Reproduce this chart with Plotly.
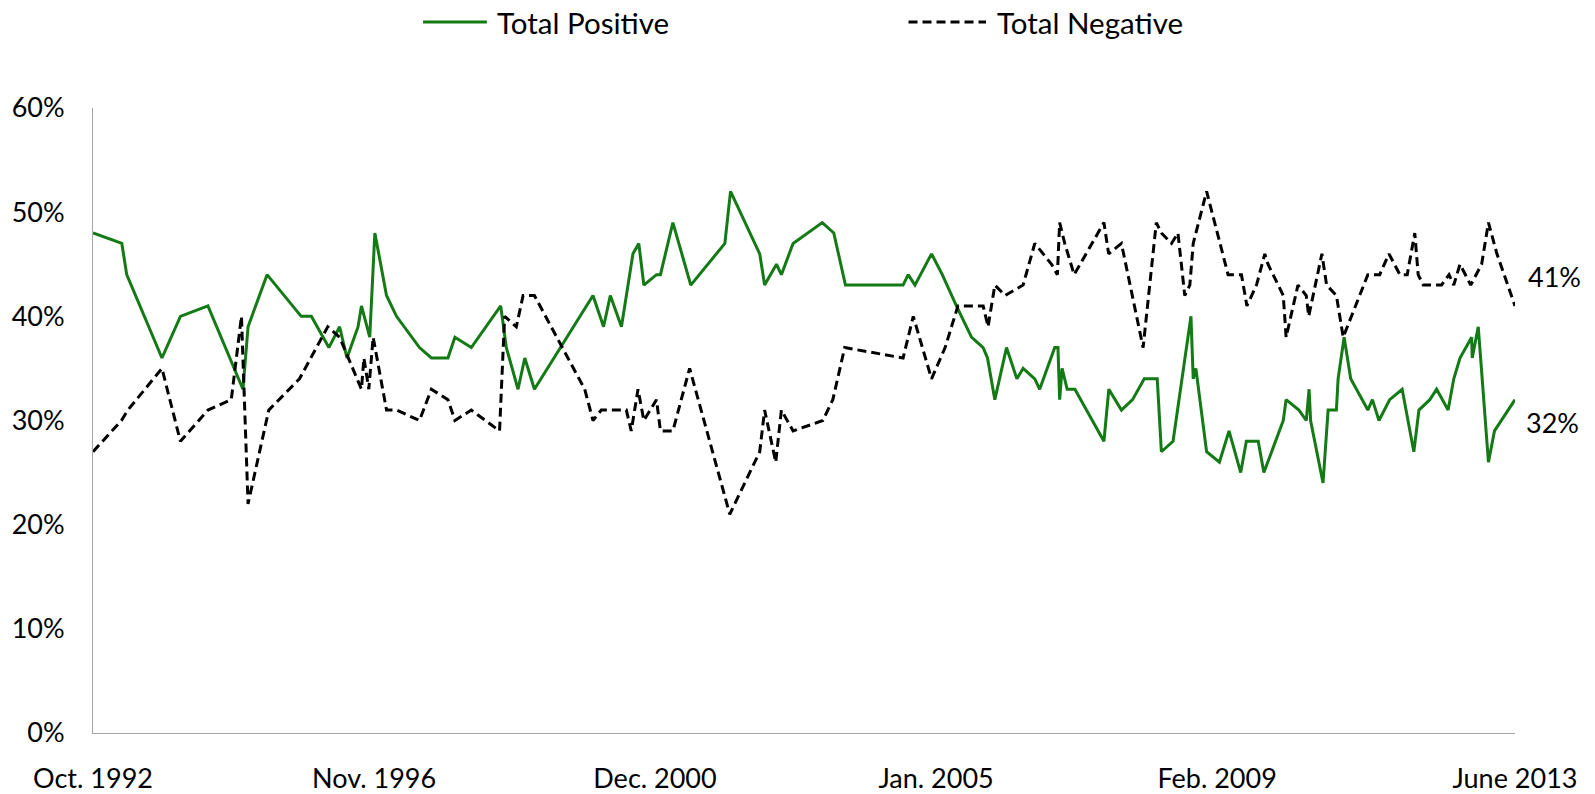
import plotly.graph_objects as go

# ---------------- data ----------------
series_names = ["Total Positive", "Total Negative"]

pos_dates = [
    "1992-10-01", "1993-03-03", "1993-03-29", "1993-10-02", "1994-01-08", "1994-06-03",
    "1994-12-06", "1995-01-02", "1995-04-13", "1995-10-11", "1995-12-04", "1996-03-06",
    "1996-05-02", "1996-06-10", "1996-08-08", "1996-08-26", "1996-10-09", "1996-11-05",
    "1997-01-06", "1997-02-28", "1997-06-30", "1997-09-01", "1997-11-28", "1998-01-04",
    "1998-04-01", "1998-09-04", "1998-10-04", "1998-12-05", "1999-01-10", "1999-03-02",
    "2000-01-07", "2000-03-03", "2000-04-08", "2000-06-06", "2000-08-06", "2000-09-06",
    "2000-10-03", "2000-12-09", "2000-12-30", "2001-03-06", "2001-06-09", "2001-12-07",
    "2002-01-06", "2002-06-10", "2002-07-06", "2002-09-07", "2002-10-03", "2002-12-04",
    "2003-05-08", "2003-07-08", "2003-09-08", "2004-07-10", "2004-08-06", "2004-09-11",
    "2004-12-08", "2005-02-03", "2005-04-19", "2005-07-08", "2005-09-08", "2005-10-01",
    "2005-11-09", "2006-01-10", "2006-03-06", "2006-04-08", "2006-06-09", "2006-07-05",
    "2006-09-23", "2006-10-10", "2006-10-19", "2006-11-01", "2006-11-28", "2007-01-08",
    "2007-06-11", "2007-07-07", "2007-09-12", "2007-11-10", "2008-01-11", "2008-03-20",
    "2008-04-11", "2008-06-12", "2008-09-15", "2008-09-27", "2008-10-11", "2008-12-07",
    "2009-02-13", "2009-04-05", "2009-06-06", "2009-07-06", "2009-09-07", "2009-10-07",
    "2010-01-18", "2010-02-02", "2010-04-11", "2010-05-20", "2010-06-04", "2010-06-12",
    "2010-08-17", "2010-09-13", "2010-10-27", "2010-11-05", "2010-12-07", "2011-01-11",
    "2011-04-12", "2011-05-06", "2011-06-10", "2011-08-06", "2011-10-11", "2011-12-12",
    "2012-01-08", "2012-03-06", "2012-04-11", "2012-06-11", "2012-07-11", "2012-08-13",
    "2012-10-14", "2012-10-17", "2012-11-18", "2013-01-11", "2013-02-12", "2013-06-01",
]
pos_values = [
    48, 47, 44, 36, 40, 41,
    33, 39, 44, 40, 40, 37,
    39, 36, 39, 41, 38, 48,
    42, 40, 37, 36, 36, 38,
    37, 41, 37, 33, 36, 33,
    42, 39, 42, 39, 46, 47,
    43, 44, 44, 49, 43, 47,
    52, 46, 43, 45, 44, 47,
    49, 48, 43, 43, 44, 43,
    46, 44, 41, 38, 37, 36,
    32, 37, 34, 35, 34, 33,
    37, 37, 32, 35, 33, 33,
    28, 33, 31, 32, 34, 34,
    27, 28, 40, 34, 35, 27,
    26, 29, 25, 28, 28, 25,
    30, 32, 31, 30, 33, 30,
    24, 31, 31, 34, 38, 34,
    31, 32, 30, 32, 33, 27,
    31, 32, 33, 31, 34, 36,
    38, 36, 39, 26, 29, 32,
]

neg_dates = [
    "1992-10-01", "1993-03-01", "1993-04-04", "1993-10-02", "1994-01-08", "1994-06-03",
    "1994-10-05", "1994-11-28", "1995-01-02", "1995-04-22", "1995-10-02", "1996-02-29",
    "1996-05-02", "1996-08-26", "1996-09-08", "1996-10-04", "1996-10-27", "1997-01-06",
    "1997-02-28", "1997-06-30", "1997-09-01", "1997-11-28", "1998-01-04", "1998-04-01",
    "1998-08-29", "1998-09-25", "1998-11-26", "1999-01-01", "1999-03-02", "1999-11-24",
    "2000-01-07", "2000-02-20", "2000-07-02", "2000-07-28", "2000-09-02", "2000-10-03",
    "2000-12-09", "2000-12-30", "2001-03-06", "2001-06-03", "2002-01-02", "2002-06-10",
    "2002-07-06", "2002-09-03", "2002-10-03", "2002-12-04", "2003-05-11", "2003-07-03",
    "2003-09-04", "2004-07-10", "2004-09-02", "2004-12-08", "2005-02-18", "2005-04-27",
    "2005-09-08", "2005-10-04", "2005-11-09", "2006-01-02", "2006-04-08", "2006-06-09",
    "2006-09-06", "2006-10-07", "2006-10-19", "2006-11-15", "2007-01-04", "2007-06-11",
    "2007-07-06", "2007-09-12", "2008-01-05", "2008-03-15", "2008-04-11", "2008-06-04",
    "2008-07-08", "2008-08-13", "2008-09-09", "2008-09-27", "2008-12-07", "2009-03-31",
    "2009-06-10", "2009-07-09", "2009-08-29", "2009-10-12", "2009-10-29", "2010-01-18",
    "2010-02-02", "2010-04-06", "2010-05-20", "2010-06-02", "2010-08-11", "2010-09-05",
    "2010-10-27", "2010-12-02", "2011-04-12", "2011-06-14", "2011-08-02", "2011-09-29",
    "2011-11-07", "2011-12-17", "2012-01-04", "2012-01-31", "2012-03-06", "2012-05-07",
    "2012-06-16", "2012-07-11", "2012-08-13", "2012-10-09", "2012-12-06", "2013-01-11",
    "2013-02-25", "2013-06-01",
]
neg_values = [
    27, 30, 31, 35, 28, 31,
    32, 40, 22, 31, 34, 39,
    38, 33, 36, 33, 38, 31,
    31, 30, 33, 32, 30, 31,
    29, 40, 39, 42, 42, 33,
    30, 31, 31, 29, 33, 30,
    32, 29, 29, 35, 21, 27,
    31, 26, 31, 29, 30, 32,
    37, 36, 40, 34, 37, 41,
    41, 39, 43, 42, 43, 47,
    45, 44, 49, 47, 44, 49,
    46, 47, 37, 49, 48, 47,
    48, 42, 43, 47, 52, 44,
    44, 41, 43, 46, 45, 42,
    38, 43, 42, 40, 46, 43,
    42, 38, 44, 44, 46, 44,
    44, 48, 44, 43, 43, 43,
    44, 43, 45, 43, 45, 49,
    46, 41,
]

tick_dates = ["1992-10-01", "1996-11-01", "2000-12-01", "2005-01-01", "2009-02-01", "2013-06-01"]
tick_labels = ["Oct. 1992", "Nov. 1996", "Dec. 2000", "Jan. 2005", "Feb. 2009", "June 2013"]
y_ticks = [0, 10, 20, 30, 40, 50, 60]

# ---------------- style ----------------
FONT = "Lato"
GREEN = "#137a15"
BLACK = "#000000"
AXIS = "#a6a6a6"
DASH = "9px,5px"
TICK_SIZE = 27
LEG_SIZE = 29.5

fig = go.Figure()
fig.add_trace(go.Scatter(
    x=pos_dates, y=pos_values, mode="lines", name=series_names[0],
    line=dict(color=GREEN, width=3), showlegend=False,
))
fig.add_trace(go.Scatter(
    x=neg_dates, y=neg_values, mode="lines", name=series_names[1],
    line=dict(color=BLACK, width=3, dash=DASH), showlegend=False,
))

# manual legend (paper coordinates)
leg_y = 1.1376
legend_items = [
    (series_names[0], GREEN, "solid", 0.2321, 0.2770, 0.2830),
    (series_names[1], BLACK, DASH, 0.5735, 0.6280, 0.6345),
]
shapes = []
annotations = []
for name, col, dash, x0, x1, xt in legend_items:
    shapes.append(dict(type="line", xref="paper", yref="paper", x0=x0, x1=x1,
                       y0=leg_y, y1=leg_y, line=dict(color=col, width=3, dash=dash)))
    annotations.append(dict(xref="paper", yref="paper", x=xt, y=leg_y, text=name,
                            showarrow=False, xanchor="left", yanchor="middle",
                            font=dict(family=FONT, size=LEG_SIZE, color="#000000")))

# end-value labels
annotations.append(dict(x=neg_dates[-1], y=neg_values[-1], text=f"{neg_values[-1]}%",
                        showarrow=False, xanchor="left", yanchor="middle",
                        xshift=11, yshift=29,
                        font=dict(family=FONT, size=TICK_SIZE, color="#000000")))
annotations.append(dict(x=pos_dates[-1], y=pos_values[-1], text=f"{pos_values[-1]}%",
                        showarrow=False, xanchor="left", yanchor="middle",
                        xshift=9, yshift=-23,
                        font=dict(family=FONT, size=TICK_SIZE, color="#000000")))

fig.update_layout(
    width=1595, height=794,
    margin=dict(l=93, r=80, t=108, b=61, autoexpand=False),
    paper_bgcolor="white", plot_bgcolor="white",
    font=dict(family=FONT, size=TICK_SIZE, color="#000000"),
    shapes=shapes, annotations=annotations,
    showlegend=False,
)
fig.update_xaxes(
    type="date", range=["1992-10-01", "2013-06-01"], automargin=False,
    tickmode="array", tickvals=tick_dates, ticktext=tick_labels,
    showline=True, linecolor=AXIS, linewidth=1, showgrid=False, zeroline=False,
    ticks="", ticklabelstandoff=22,
    tickfont=dict(family=FONT, size=TICK_SIZE, color="#000000"),
)
fig.update_yaxes(
    range=[0, 60], tickmode="array", tickvals=y_ticks, automargin=False,
    ticktext=[f"{v}%" for v in y_ticks],
    showline=True, linecolor=AXIS, linewidth=1, showgrid=False, zeroline=False,
    ticks="", ticklabelstandoff=22,
    tickfont=dict(family=FONT, size=TICK_SIZE, color="#000000"),
)

fig.write_html(
    "out.html",
    config={"displayModeBar": False},
    post_script="document.body.style.margin='0';document.body.style.padding='0';"
                "document.body.style.overflow='hidden';",
)
